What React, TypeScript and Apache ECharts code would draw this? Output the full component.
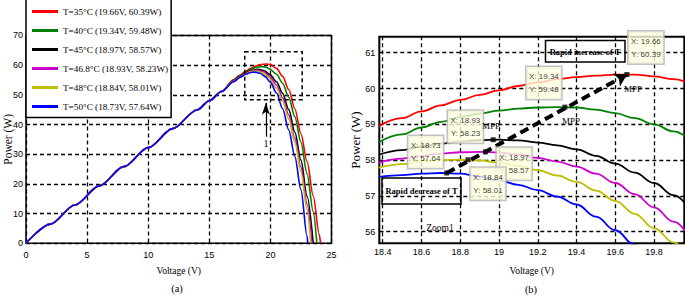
import React, { useEffect, useRef } from "react";
import * as echarts from "echarts";

const SERIF = '"Liberation Serif", "Times New Roman", serif';
const NARROW = '"Liberation Sans Narrow", "Arial Narrow", "Liberation Sans", sans-serif';

// Temperatures, colours and maximum power points (from the legend / data tips)
const temps = [35, 40, 45, 46.8, 48, 50];
const colors = ["#ff0000", "#008000", "#000000", "#cc00cc", "#bfbf00", "#0000ff"];
const mppV = [19.66, 19.34, 18.97, 18.93, 18.84, 18.73];
const mppP = [60.39, 59.48, 58.57, 58.23, 58.01, 57.64];

// Panel (a): common rising segment of the P-V curves
const riseV = [0, 2, 4, 6, 8, 10, 12, 14, 15, 16];
const riseP = [0, 6.45, 12.9, 19.35, 25.8, 32.2, 38.6, 44.9, 48.0, 51.1];

// Panel (a): knee and fall of each curve
const kV35 = [17, 17.5, 18, 18.38, 18.8, 19.2, 19.66, 20, 20.5, 21, 21.5, 22, 22.5, 23, 23.5, 24, 24.1];
const kP35 = [55.1, 56.6, 58.0, 58.95, 59.68, 60.17, 60.39, 60.15, 58.9, 56.2, 51.8, 45.3, 36.9, 27.5, 16.0, 3.0, 0];
const kV40 = [17, 17.5, 18, 18.38, 18.8, 19.34, 19.7, 19.96, 20.5, 21, 21.5, 22, 22.5, 23, 23.5, 23.8];
const kP40 = [54.9, 56.4, 57.6, 58.5, 59.2, 59.48, 59.17, 58.67, 56.9, 53.9, 49.2, 42.6, 34.0, 23.4, 10.7, 0];
const kV45 = [17, 17.5, 18, 18.38, 18.97, 19.5, 19.96, 20.5, 21, 21.5, 22, 22.5, 23, 23.5];
const kP45 = [54.7, 56.2, 57.4, 58.15, 58.57, 58.12, 56.8, 54.4, 50.5, 45.0, 37.5, 28.0, 15.8, 0];
const kV468 = [17, 17.5, 18, 18.38, 18.93, 19.5, 19.96, 20.5, 21, 21.5, 22, 22.5, 23, 23.4];
const kP468 = [54.6, 56.0, 57.2, 57.93, 58.23, 57.62, 56.03, 53.3, 49.0, 43.2, 35.4, 25.6, 13.2, 0];
const kV48 = [17, 17.5, 18, 18.38, 18.84, 19.4, 19.8, 20.5, 21, 21.5, 22, 22.5, 23, 23.3];
const kP48 = [54.5, 55.9, 57.1, 57.79, 58.01, 57.39, 56.1, 52.3, 47.9, 41.9, 34.0, 24.0, 11.2, 0];
const kV50 = [17, 17.5, 18, 18.38, 18.73, 19.2, 19.6, 20, 20.5, 21, 21.5, 22, 22.5, 23, 23.06];
const kP50 = [54.4, 55.8, 56.9, 57.53, 57.64, 57.16, 56.04, 54.2, 50.6, 45.3, 38.2, 29.2, 18.0, 2.4, 0];

// Panel (b): zoomed curves on a shared voltage grid
const vB = [18.38, 18.5, 18.6, 18.7, 18.8, 18.9, 19.0, 19.1, 19.2, 19.3, 19.4, 19.5, 19.6, 19.7, 19.8, 19.9, 19.96];
const pB35 = [58.95, 59.17, 59.36, 59.53, 59.68, 59.82, 59.95, 60.07, 60.17, 60.26, 60.32, 60.36, 60.39, 60.39, 60.34, 60.26, 60.19];
const pB40 = [58.5, 58.72, 58.91, 59.07, 59.2, 59.3, 59.38, 59.44, 59.47, 59.48, 59.47, 59.41, 59.31, 59.17, 59.0, 58.8, 58.67];
const pB45 = [58.15, 58.28, 58.38, 58.46, 58.52, 58.56, 58.57, 58.55, 58.49, 58.41, 58.3, 58.12, 57.9, 57.65, 57.36, 57.02, 56.8];
const pB468 = [57.93, 58.04, 58.12, 58.18, 58.22, 58.23, 58.21, 58.15, 58.06, 57.96, 57.82, 57.62, 57.36, 57.05, 56.68, 56.28, 56.03];
const pB48 = [57.79, 57.89, 57.96, 58.0, 58.01, 57.99, 57.93, 57.84, 57.72, 57.57, 57.39, 57.15, 56.86, 56.5, 56.1, 55.7, 55.45];
const pB50 = [57.53, 57.58, 57.62, 57.64, 57.62, 57.54, 57.43, 57.31, 57.16, 56.98, 56.76, 56.42, 56.04, 55.63, 55.18, 54.7, 54.4];

// Axes / ticks
const xTicksA = { min: 0, max: 25, interval: 5 };
const yTicksA = { min: 0, max: 70, interval: 10 };
const xRangeB = [18.3825, 19.956];
const yRangeB = [55.676, 61.447];
const xTicksB = [18.4, 18.6, 18.8, 19.0, 19.2, 19.4, 19.6, 19.8];
const yTicksB = [56, 57, 58, 59, 60, 61];

// Annotations in panel (a)
const zoomBoxV = [17.9, 22.6];
const zoomBoxP = [48.3, 64.5];
const arrow1V = 19.63;
const arrow1P = [35.9, 47.3];

const kneeV = [kV35, kV40, kV45, kV468, kV48, kV50];
const kneeP = [kP35, kP40, kP45, kP468, kP48, kP50];
const zoomP = [pB35, pB40, pB45, pB468, pB48, pB50];

export default function App() {
  const ref = useRef<HTMLDivElement>(null);
  useEffect(() => {
    if (!ref.current) return;
    const chart = echarts.init(ref.current, undefined, { renderer: "svg", width: 685, height: 296 });
    const names = temps.map(
      (t, i) => `T=${t}°C (${mppV[i].toFixed(2)}V, ${mppP[i].toFixed(2)}W)`
    );
    const tipOffsets = [
      [19, -27],
      [-21, -24],
      [21, 24],
      [-20, -25],
      [20, 24],
      [-21, -21],
    ];
    const seriesA = names.map((n, i) => ({
      type: "line",
      name: n,
      xAxisIndex: 0,
      yAxisIndex: 0,
      data: riseV.concat(kneeV[i]).map((v, j) => [v, riseP.concat(kneeP[i])[j]]),
      showSymbol: false,
      smooth: 0.3,
      smoothMonotone: "x",
      lineStyle: { color: colors[i], width: 1.6 },
      itemStyle: { color: colors[i] },
      silent: true,
      z: 2,
    }));
    const seriesB = names.map((n, i) => ({
      type: "line",
      name: n,
      xAxisIndex: 1,
      yAxisIndex: 1,
      data: vB.map((v, j) => [v, zoomP[i][j]]),
      showSymbol: false,
      smooth: 0.4,
      smoothMonotone: "x",
      lineStyle: { color: colors[i], width: 1.8 },
      itemStyle: { color: colors[i] },
      silent: true,
      z: 2,
    }));
    const axisLabelStyle = { color: "#000", fontFamily: NARROW, fontSize: 9 };
    const nameStyle = { color: "#000", fontFamily: SERIF };
    const dash = { color: "#000", type: [4, 3], width: 1.3 };

    const option: any = {
      animation: false,
      backgroundColor: "#fff",
      textStyle: { fontFamily: SERIF },
      grid: [
        { left: 26, top: 35.4, width: 305.5, height: 207.9, show: true, borderColor: "#000", borderWidth: 1.5, backgroundColor: "#fff", outerBoundsMode: "none", containLabel: false },
        { left: 379.3, top: 36.7, width: 305, height: 206.6, show: true, borderColor: "#000", borderWidth: 2, backgroundColor: "#fff", outerBoundsMode: "none", containLabel: false },
      ],
      legend: {
        data: names,
        orient: "vertical",
        left: 26,
        top: -4,
        padding: [6, 3, 1.5, 6],
        itemGap: 0,
        itemWidth: 26,
        itemHeight: 3,
        icon: "rect",
        backgroundColor: "#fff",
        borderColor: "#000",
        borderWidth: 1.5,
        selectedMode: false,
        textStyle: { fontFamily: SERIF, fontSize: 9.2, color: "#000", lineHeight: 19 },
      },
      xAxis: [
        {
          gridIndex: 0,
          type: "value",
          min: xTicksA.min,
          max: xTicksA.max,
          interval: xTicksA.interval,
          axisLine: { show: false },
          axisTick: { inside: true, length: 4, lineStyle: { color: "#000" } },
          axisLabel: { ...axisLabelStyle, margin: 7 },
          splitLine: { show: true, lineStyle: dash },
          name: "Voltage (V)",
          nameLocation: "middle",
          nameGap: 23,
          nameMoveOverlap: false,
          nameTextStyle: { ...nameStyle, fontSize: 9.5 },
        },
        {
          gridIndex: 1,
          type: "value",
          min: xRangeB[0],
          max: xRangeB[1],
          axisLine: { show: false },
          axisTick: { inside: true, length: 4, customValues: xTicksB, lineStyle: { color: "#000" } },
          axisLabel: {
            ...axisLabelStyle,
            margin: 4,
            customValues: xTicksB,
            formatter: (v: number) => String(+v.toFixed(1)),
          },
          splitLine: { show: false },
          name: "Voltage (V)",
          nameLocation: "middle",
          nameGap: 23,
          nameMoveOverlap: false,
          nameTextStyle: { ...nameStyle, fontSize: 9.5 },
        },
      ],
      yAxis: [
        {
          gridIndex: 0,
          type: "value",
          min: yTicksA.min,
          max: yTicksA.max,
          interval: yTicksA.interval,
          axisLine: { show: false },
          axisTick: { inside: true, length: 4, lineStyle: { color: "#000" } },
          axisLabel: { ...axisLabelStyle, margin: 3 },
          splitLine: { show: true, lineStyle: dash },
          name: "Power (W)",
          nameLocation: "middle",
          nameRotate: 90,
          nameGap: 12,
          nameMoveOverlap: false,
          nameTextStyle: { ...nameStyle, fontSize: 11.5 },
        },
        {
          gridIndex: 1,
          type: "value",
          min: yRangeB[0],
          max: yRangeB[1],
          axisLine: { show: false },
          axisTick: { inside: true, length: 4, customValues: yTicksB, lineStyle: { color: "#000" } },
          axisLabel: { ...axisLabelStyle, margin: 4, customValues: yTicksB },
          splitLine: { show: false },
          name: "Power (W)",
          nameLocation: "middle",
          nameRotate: 90,
          nameGap: 17,
          nameMoveOverlap: false,
          nameTextStyle: { ...nameStyle, fontSize: 13 },
        },
      ],
      series: [
        // grid lines of panel (b), drawn from the tick arrays
        {
          type: "line",
          xAxisIndex: 1,
          yAxisIndex: 1,
          data: [],
          silent: true,
          markLine: {
            silent: true,
            z: 1,
            symbol: ["none", "none"],
            label: { show: false },
            lineStyle: dash,
            data: [
              ...xTicksB.map((v) => ({ xAxis: v })),
              ...yTicksB.map((v) => ({ yAxis: v })),
            ],
          },
        },
        ...seriesA,
        ...seriesB,
        // zoom box and arrow "1" in panel (a)
        {
          type: "line",
          xAxisIndex: 0,
          yAxisIndex: 0,
          data: [],
          silent: true,
          markArea: {
            silent: true,
            z: 3,
            itemStyle: { color: "rgba(0,0,0,0)", borderColor: "#000", borderWidth: 1.5, borderType: [4, 3] },
            data: [[{ coord: [zoomBoxV[0], zoomBoxP[1]] }, { coord: [zoomBoxV[1], zoomBoxP[0]] }]],
          },
          markLine: {
            silent: true,
            z: 5,
            symbol: ["none", "arrow"],
            symbolSize: [6, 12],
            lineStyle: { color: "#000", type: "solid", width: 1.2 },
            label: {
              show: true,
              position: "start",
              formatter: "1",
              distance: 2,
              color: "#000",
              fontFamily: SERIF,
              fontSize: 10,
            },
            data: [[{ coord: [arrow1V, arrow1P[0]] }, { coord: [arrow1V, arrow1P[1]] }]],
          },
        },
        // MPP markers with data tips and the trend arrow in panel (b)
        {
          type: "scatter",
          xAxisIndex: 1,
          yAxisIndex: 1,
          symbol: "rect",
          symbolSize: 5,
          itemStyle: { color: "#000" },
          silent: true,
          z: 6,
          data: mppV.map((v, i) => ({
            value: [v, mppP[i]],
            label: { offset: tipOffsets[i] },
          })),
          label: {
            show: true,
            position: "inside",
            formatter: (p: any) => `X: ${p.value[0].toFixed(2)}\nY: ${p.value[1].toFixed(2)}`,
            color: "#000",
            fontFamily: NARROW,
            fontSize: 8,
            lineHeight: 13,
            backgroundColor: "#ffffe1",
            borderColor: "#b4b4b4",
            borderWidth: 1.5,
            padding: [3, 2.5, 3, 2.5],
            align: "center",
            verticalAlign: "middle",
          },
          markLine: {
            silent: true,
            z: 5,
            symbol: ["none", "arrow"],
            symbolSize: [11, 12],
            label: { show: false },
            lineStyle: { color: "#000", type: [9, 5], width: 4 },
            data: [[{ coord: [mppV[5], mppP[5]] }, { coord: [mppV[0], mppP[0]] }]],
          },
        },
      ],
      graphic: [
        {
          type: "rect",
          silent: true,
          z: 50,
          shape: { x: 545.5, y: 40.5, width: 79.5, height: 21.5 },
          style: { fill: "none", stroke: "#000", lineWidth: 1.5 },
        },
        {
          type: "text",
          silent: true,
          z: 50,
          x: 585,
          y: 51.5,
          style: { text: "Rapid increase of T", fontFamily: SERIF, fontSize: 8.5, fontWeight: "bold", fill: "#000", align: "center", verticalAlign: "middle" },
        },
        {
          type: "rect",
          silent: true,
          z: 50,
          shape: { x: 382, y: 178, width: 79, height: 26 },
          style: { fill: "none", stroke: "#000", lineWidth: 1.5 },
        },
        {
          type: "text",
          silent: true,
          z: 50,
          x: 421.5,
          y: 191,
          style: { text: "Rapid decrease of T", fontFamily: SERIF, fontSize: 8.5, fontWeight: "bold", fill: "#000", align: "center", verticalAlign: "middle" },
        },
        {
          type: "text",
          silent: true,
          z: 50,
          x: 440,
          y: 228,
          style: { text: "Zoom1", fontFamily: SERIF, fontSize: 9.5, fill: "#000", align: "center", verticalAlign: "middle" },
        },
        ...[
          [633, 89],
          [571, 121],
          [491, 126],
        ].map(([x, y]) => ({
          type: "text",
          silent: true,
          z: 50,
          x,
          y,
          style: { text: "MPP", fontFamily: SERIF, fontSize: 9, fill: "#000", align: "center", verticalAlign: "middle" },
        })),
        {
          type: "text",
          silent: true,
          z: 50,
          x: 177,
          y: 288,
          style: { text: "(a)", fontFamily: SERIF, fontSize: 10.5, fill: "#000", align: "center", verticalAlign: "middle" },
        },
        {
          type: "text",
          silent: true,
          z: 50,
          x: 531,
          y: 289,
          style: { text: "(b)", fontFamily: SERIF, fontSize: 10.5, fill: "#000", align: "center", verticalAlign: "middle" },
        },
      ],
    };
    chart.setOption(option);
    return () => chart.dispose();
  }, []);
  return (
    <div
      ref={ref}
      style={{ position: "fixed", left: 0, top: 0, width: 685, height: 296, background: "#fff" }}
    />
  );
}
